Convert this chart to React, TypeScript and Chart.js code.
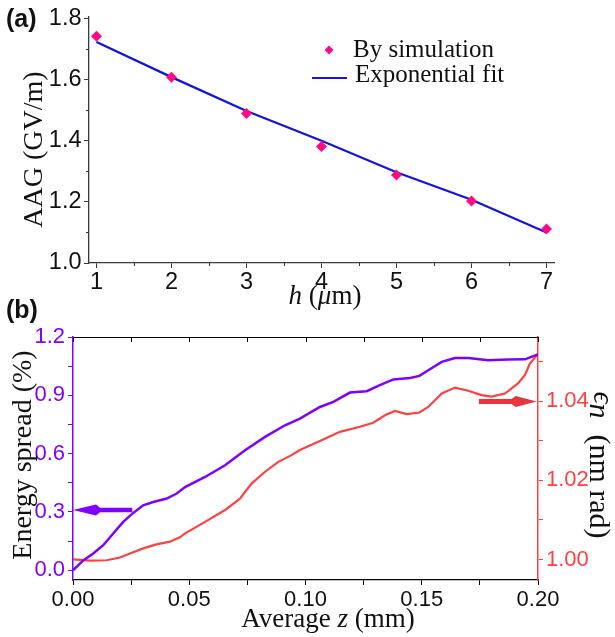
import React, { useEffect, useRef } from "react";
import { Chart, registerables } from "chart.js";

Chart.register(...registerables);

// ---------------- Panel (a) data ----------------
const hValues = [1, 2, 3, 4, 5, 6, 7];
const aagSimulation = [1.742, 1.608, 1.489, 1.381, 1.288, 1.203, 1.111];
const aagExponentialFit = [1.723, 1.608, 1.497, 1.4, 1.297, 1.207, 1.1];
const aXTickLabels = ["1", "2", "3", "4", "5", "6", "7"];
const aYTickLabels = ["1.0", "1.2", "1.4", "1.6", "1.8"];

// ---------------- Panel (b) data ----------------
const zEnergy = [
  0, 0.0044, 0.0087, 0.013, 0.0173, 0.0216, 0.0259, 0.0302, 0.0345, 0.0403, 0.0446, 0.0482,
  0.0568, 0.0654, 0.074, 0.0826, 0.0912, 0.0976, 0.1062, 0.112, 0.1191, 0.1263, 0.132, 0.1378,
  0.145, 0.149, 0.1528, 0.1586, 0.1643, 0.17, 0.1786, 0.1872, 0.1944, 0.198, 0.2,
];
const energySpread = [
  0.0, 0.051, 0.086, 0.129, 0.189, 0.249, 0.295, 0.334, 0.351, 0.369, 0.395, 0.428,
  0.48, 0.54, 0.617, 0.686, 0.746, 0.78, 0.84, 0.866, 0.914, 0.921, 0.952, 0.982,
  0.989, 1.0, 1.029, 1.072, 1.092, 1.092, 1.08, 1.084, 1.085, 1.102, 1.11,
];
const zEmittance = [
  0, 0.0073, 0.0145, 0.0202, 0.0245, 0.0302, 0.0359, 0.0417, 0.046, 0.0482, 0.0568, 0.0654,
  0.0718, 0.0768, 0.0826, 0.0883, 0.094, 0.0976, 0.1062, 0.1148, 0.1234, 0.1291, 0.1342, 0.1385,
  0.1435, 0.149, 0.1528, 0.1586, 0.1643, 0.17, 0.1757, 0.18, 0.1858, 0.1915, 0.1944, 0.1965,
  0.1993, 0.2,
];
const emittance = [
  1.0, 0.9997, 0.9998, 1.0005, 1.0015, 1.0028, 1.0038, 1.0045, 1.0056, 1.0066, 1.0095, 1.0125,
  1.0154, 1.0192, 1.0222, 1.0247, 1.0264, 1.0277, 1.03, 1.0323, 1.0336, 1.0346, 1.0365, 1.0376,
  1.0368, 1.0372, 1.0386, 1.042, 1.0435, 1.0427, 1.0416, 1.0412, 1.042, 1.0446, 1.0467, 1.0496,
  1.0515, 1.0522,
];
const bXTickLabels = ["0.00", "0.05", "0.10", "0.15", "0.20"];
const bLeftTickLabels = ["0.0", "0.3", "0.6", "0.9", "1.2"];
const bRightTickLabels = ["1.00", "1.02", "1.04"];

// ---------------- styles ----------------
const SERIF = '"Liberation Serif", "Times New Roman", "DejaVu Serif", serif';
const SANS = '"Liberation Sans", Arial, sans-serif';
const PINK = "#ff0a84";
const BLUE = "#1414e0";
const PURPLE = "#8000ff";
const RED = "#ff4040";
const ARROW_RED = "#e8343e";
const AXIS_A = "#3a3a3a";
const TICK_TEXT = "#111";

type Part = { text: string; font: string; dy?: number; gap?: number };

function drawRich(ctx: CanvasRenderingContext2D, parts: Part[], x: number, y: number, angle: number, color: string) {
  ctx.save();
  ctx.translate(x, y);
  ctx.rotate(angle);
  ctx.fillStyle = color;
  ctx.textBaseline = "alphabetic";
  ctx.textAlign = "left";
  let total = 0;
  const widths = parts.map((p) => {
    ctx.font = p.font;
    const w = ctx.measureText(p.text).width;
    total += w + (p.gap || 0);
    return w;
  });
  let cx = -total / 2;
  parts.forEach((p, i) => {
    cx += p.gap || 0;
    ctx.font = p.font;
    ctx.fillText(p.text, cx, p.dy || 0);
    cx += widths[i];
  });
  ctx.restore();
}

function seg(ctx: CanvasRenderingContext2D, x1: number, y1: number, x2: number, y2: number) {
  ctx.beginPath();
  ctx.moveTo(x1, y1);
  ctx.lineTo(x2, y2);
  ctx.stroke();
}

function isMajor(v: number, step: number) {
  const r = v / step;
  return Math.abs(r - Math.round(r)) < 1e-6;
}

const panelAPlugin = {
  id: "panelA",
  afterDraw(chart: any) {
    const ctx: CanvasRenderingContext2D = chart.ctx;
    const xs = chart.scales.x;
    const ys = chart.scales.y;
    ctx.save();
    ctx.strokeStyle = AXIS_A;
    ctx.lineWidth = 1;
    // minor ticks
    for (let v = Math.ceil(xs.min / 0.5) * 0.5; v <= xs.max + 1e-9; v += 0.5) {
      if (isMajor(v, 1)) continue;
      const px = Math.round(xs.getPixelForValue(v)) + 0.5;
      seg(ctx, px, xs.top, px, xs.top + 3);
    }
    for (let v = Math.ceil(ys.min / 0.1) * 0.1; v <= ys.max + 1e-9; v += 0.1) {
      if (isMajor(v, 0.2)) continue;
      const py = Math.round(ys.getPixelForValue(v)) + 0.5;
      seg(ctx, ys.right - 3, py, ys.right, py);
    }
    ctx.restore();

    // legend (inside plot)
    const ds0 = chart.data.datasets[0];
    const ds1 = chart.data.datasets[1];
    ctx.save();
    ctx.fillStyle = ds0.backgroundColor;
    const dx = 329, dy = 50, r = 4.5;
    ctx.beginPath();
    ctx.moveTo(dx, dy - r);
    ctx.lineTo(dx + r, dy);
    ctx.lineTo(dx, dy + r);
    ctx.lineTo(dx - r, dy);
    ctx.closePath();
    ctx.fill();
    ctx.strokeStyle = ds1.borderColor;
    ctx.lineWidth = 2.2;
    seg(ctx, 312, 78, 347, 78);
    ctx.fillStyle = "#111";
    ctx.font = `25px ${SERIF}`;
    ctx.textBaseline = "alphabetic";
    ctx.fillText(ds0.label, 353, 57);
    ctx.fillText(ds1.label, 355, 82);
    ctx.restore();

    // titles
    drawRich(ctx, [{ text: "AAG (GV/m)", font: `28px ${SERIF}` }], 41.5, 149.5, -Math.PI / 2, "#111");
    drawRich(
      ctx,
      [
        { text: "h", font: `italic 27px ${SERIF}` },
        { text: " (", font: `27px ${SERIF}` },
        { text: "\u03bc", font: `italic 27px ${SERIF}` },
        { text: "m)", font: `27px ${SERIF}` },
      ],
      325,
      304,
      0,
      "#111"
    );
    ctx.save();
    ctx.fillStyle = "#111";
    ctx.font = `bold 25px ${SANS}`;
    ctx.textBaseline = "alphabetic";
    ctx.fillText("(a)", 6, 27);
    ctx.restore();
  },
};

const arrows = [
  { axis: "y", y: 0.31, from: 0.0255, to: 0.0, color: PURPLE, shaft: 4.5, head: 27, half: 5.5 },
  { axis: "y1", y: 1.04, from: 0.1746, to: 0.1994, color: ARROW_RED, shaft: 5, head: 25, half: 5.5 },
];

const panelBPlugin = {
  id: "panelB",
  afterDraw(chart: any) {
    const ctx: CanvasRenderingContext2D = chart.ctx;
    const xs = chart.scales.x;
    const area = chart.chartArea;
    // top mirror axis with inward ticks
    ctx.save();
    ctx.strokeStyle = "#000";
    ctx.lineWidth = 1.2;
    seg(ctx, area.left, area.top + 0.5, area.right, area.top + 0.5);
    ctx.lineWidth = 1;
    xs.ticks.forEach((t: any) => {
      const px = Math.round(xs.getPixelForValue(t.value)) + 0.5;
      seg(ctx, px, area.top, px, area.top + 5);
    });
    ctx.restore();

    // arrows
    arrows.forEach((a) => {
      const ys = chart.scales[a.axis];
      const py = ys.getPixelForValue(a.y);
      const x0 = xs.getPixelForValue(a.from);
      const x1 = xs.getPixelForValue(a.to);
      const dir = x1 > x0 ? 1 : -1;
      const xb = x1 - dir * a.head;
      ctx.save();
      ctx.fillStyle = a.color;
      ctx.beginPath();
      ctx.moveTo(x0, py - a.shaft / 2);
      ctx.lineTo(xb, py - a.shaft / 2);
      ctx.lineTo(xb + dir * 4, py - a.half);
      ctx.lineTo(x1, py);
      ctx.lineTo(xb + dir * 4, py + a.half);
      ctx.lineTo(xb, py + a.shaft / 2);
      ctx.lineTo(x0, py + a.shaft / 2);
      ctx.closePath();
      ctx.fill();
      ctx.restore();
    });

    // titles
    drawRich(ctx, [{ text: "Energy spread (%)", font: `28px ${SERIF}` }], 31, 165, -Math.PI / 2, "#111");
    drawRich(
      ctx,
      [
        { text: "Average ", font: `27px ${SERIF}` },
        { text: "z", font: `italic 27px ${SERIF}` },
        { text: " (mm)", font: `27px ${SERIF}` },
      ],
      328,
      337,
      0,
      "#111"
    );
    drawRich(
      ctx,
      [
        { text: "\u03f5", font: `italic 30px ${SERIF}`, dy: -4 },
        { text: "n", font: `italic 30px ${SERIF}` },
        { text: "(nm rad)", font: `30px ${SERIF}`, gap: 16 },
      ],
      590,
      175,
      Math.PI / 2,
      "#111"
    );
    ctx.save();
    ctx.fillStyle = "#111";
    ctx.font = `bold 25px ${SANS}`;
    ctx.textBaseline = "alphabetic";
    ctx.fillText("(b)", 6, 28);
    ctx.restore();
  },
};

function labelFrom(list: string[], digits: number) {
  return (v: any) => {
    const s = Number(v).toFixed(digits);
    return list.includes(s) ? s : "";
  };
}

export default function App() {
  const refA = useRef<HTMLCanvasElement>(null);
  const refB = useRef<HTMLCanvasElement>(null);

  useEffect(() => {
    const tickFontA = { family: SANS, size: 23.5 };
    const tickFontB = { family: SANS, size: 22 };
    const chartA = new Chart(refA.current as HTMLCanvasElement, {
      type: "scatter",
      data: {
        datasets: [
          {
            label: "By simulation",
            data: hValues.map((h, i) => ({ x: h, y: aagSimulation[i] })),
            pointStyle: "rectRot",
            pointRadius: 5.5,
            pointBorderWidth: 0,
            backgroundColor: PINK,
            borderColor: PINK,
            showLine: false,
            order: 0,
          },
          {
            label: "Exponential fit",
            data: hValues.map((h, i) => ({ x: h, y: aagExponentialFit[i] })),
            showLine: true,
            borderColor: BLUE,
            backgroundColor: BLUE,
            borderWidth: 2.3,
            pointRadius: 0,
            order: 1,
          },
        ],
      },
      options: {
        responsive: false,
        animation: false,
        devicePixelRatio: 1,
        layout: { padding: { top: 15, right: 61, left: 0, bottom: 0 } },
        plugins: { legend: { display: false }, tooltip: { enabled: false } },
        scales: {
          x: {
            type: "linear",
            min: 0.9,
            max: 7.1,
            ticks: {
              stepSize: 1,
              includeBounds: false,
              autoSkip: false,
              maxRotation: 0,
              font: tickFontA,
              color: TICK_TEXT,
              padding: 0,
              callback: labelFrom(aXTickLabels, 0),
            },
            grid: { drawOnChartArea: false, color: AXIS_A, tickLength: 5 },
            border: { color: AXIS_A, width: 1.3 },
            afterFit: (s: any) => {
              s.height = 47;
            },
          },
          y: {
            min: 1.0,
            max: 1.806,
            ticks: {
              stepSize: 0.2,
              includeBounds: false,
              autoSkip: false,
              font: tickFontA,
              color: TICK_TEXT,
              padding: 2.5,
              callback: labelFrom(aYTickLabels, 1),
            },
            grid: { drawOnChartArea: false, color: AXIS_A, tickLength: 5 },
            border: { color: AXIS_A, width: 1.3 },
            afterFit: (s: any) => {
              s.width = 89;
            },
          },
        },
      } as any,
      plugins: [panelAPlugin as any],
    });

    const chartB = new Chart(refB.current as HTMLCanvasElement, {
      type: "scatter",
      data: {
        datasets: [
          {
            label: "Energy spread",
            data: zEnergy.map((z, i) => ({ x: z, y: energySpread[i] })),
            showLine: true,
            borderColor: PURPLE,
            backgroundColor: PURPLE,
            borderWidth: 2.5,
            pointRadius: 0,
            yAxisID: "y",
            order: 0,
          },
          {
            label: "Emittance",
            data: zEmittance.map((z, i) => ({ x: z, y: emittance[i] })),
            showLine: true,
            borderColor: RED,
            backgroundColor: RED,
            borderWidth: 2.2,
            pointRadius: 0,
            yAxisID: "y1",
            order: 1,
          },
        ],
      },
      options: {
        responsive: false,
        animation: false,
        devicePixelRatio: 1,
        layout: { padding: { top: 47, right: 0, left: 0, bottom: 0 } },
        plugins: { legend: { display: false }, tooltip: { enabled: false } },
        scales: {
          x: {
            type: "linear",
            position: "bottom",
            min: 0,
            max: 0.2,
            ticks: {
              stepSize: 0.025,
              autoSkip: false,
              maxRotation: 0,
              font: tickFontB,
              color: TICK_TEXT,
              padding: 2,
              callback: labelFrom(bXTickLabels, 2),
            },
            grid: { drawOnChartArea: false, color: "#000", tickLength: 5 },
            border: { color: "#000", width: 1.2 },
            afterFit: (s: any) => {
              s.height = 57;
            },
          },
          y: {
            position: "left",
            min: -0.05,
            max: 1.2,
            ticks: {
              stepSize: 0.15,
              includeBounds: false,
              autoSkip: false,
              font: tickFontB,
              color: PURPLE,
              padding: 3,
              callback: labelFrom(bLeftTickLabels, 1),
            },
            grid: { drawOnChartArea: false, color: PURPLE, tickLength: 5 },
            border: { color: PURPLE, width: 1.5 },
            afterFit: (s: any) => {
              s.width = 73;
            },
          },
          y1: {
            position: "right",
            min: 0.9948,
            max: 1.0563,
            ticks: {
              stepSize: 0.01,
              includeBounds: false,
              autoSkip: false,
              font: tickFontB,
              color: RED,
              padding: 3,
              callback: labelFrom(bRightTickLabels, 2),
            },
            grid: { drawOnChartArea: false, color: RED, tickLength: 5 },
            border: { color: RED, width: 1.5 },
            afterFit: (s: any) => {
              s.width = 77;
            },
          },
        },
      } as any,
      plugins: [panelBPlugin as any],
    });

    return () => {
      chartA.destroy();
      chartB.destroy();
    };
  }, []);

  return (
    <div style={{ position: "fixed", left: 0, top: 0, width: 615, height: 637, background: "#fff" }}>
      <canvas
        ref={refA}
        width={615}
        height={310}
        style={{ position: "absolute", left: 0, top: 0, width: 615, height: 310 }}
      />
      <canvas
        ref={refB}
        width={615}
        height={347}
        style={{ position: "absolute", left: 0, top: 290, width: 615, height: 347 }}
      />
    </div>
  );
}
